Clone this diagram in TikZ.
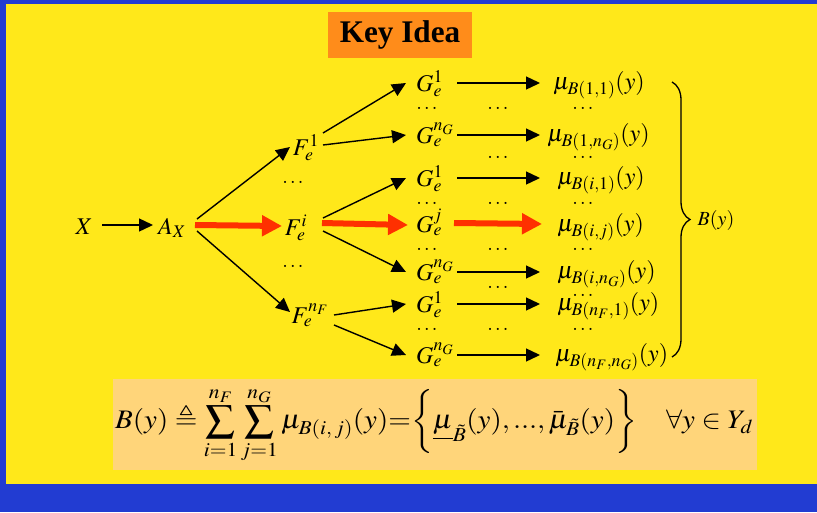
\documentclass[tikz,border=0pt]{standalone}
\usepackage{amsmath,amssymb}
\usepackage{mathptmx}
\usepackage{graphicx}
\usepackage[no-math]{fontspec}
\setmainfont{Liberation Serif}
\usetikzlibrary{arrows.meta,calc,decorations.pathreplacing}
\definecolor{bgyellow}{HTML}{FFE81A}
\definecolor{bgblue}{HTML}{223CD2}
\definecolor{keyorange}{HTML}{FF8C1A}
\definecolor{formbox}{HTML}{FFD57A}
\definecolor{arrred}{HTML}{FF3000}
\tikzset{
  m/.style={inner sep=0pt, font=\fontsize{24}{24}\selectfont},
  mu/.style={inner sep=0pt, anchor=base west, font=\fontsize{24}{24}\selectfont},
  gn/.style={inner sep=0pt, anchor=base west, font=\fontsize{24}{24}\selectfont},
  dts/.style={inner sep=0pt, font=\fontsize{20}{20}\selectfont},
  blk/.style={line width=1.4pt, -{Triangle[length=14pt,width=13pt]}},
  redarr/.style={line width=6pt, arrred, -{Triangle[length=20pt,width=20pt]}},
}
\begin{document}
\begin{tikzpicture}[x=1pt,y=-1pt]
\fill[bgblue] (0,0) rectangle (817,512);
\fill[bgyellow] (6,4) rectangle (817,484);
\useasboundingbox (0,0) rectangle (817,512);

\node[fill=keyorange, minimum width=144pt, minimum height=46pt, inner sep=0pt,
      font=\fontsize{30}{30}\selectfont\bfseries] (key) at (400,35) {\scalebox{1.04}[1.05]{Key Idea}};

% left part
\node[m, anchor=base] (X) at (84,234) {$X$};
\node[m, anchor=base] (AX) at (172,234) {$A_X$};
\node[m, anchor=base] (F1) at (306,155) {$F_e^1$};
\node[m, anchor=base] (Fi) at (296,235) {$F_e^i$};
\node[m, anchor=base] (FnF) at (310,323) {$F_e^{n_F}$};
\node[dts] (fd1) at (293,182) {$\ldots$};
\node[dts] (fd2) at (293,266) {$\ldots$};

% G column
\node[gn] (G1) at (416,91) {$G_e^1$};
\node[gn] (G2) at (416,143) {$G_e^{n_G}$};
\node[gn] (G3) at (416,186) {$G_e^1$};
\node[gn] (G4) at (416,232) {$G_e^j$};
\node[gn] (G5) at (416,280) {$G_e^{n_G}$};
\node[gn] (G6) at (416,312) {$G_e^1$};
\node[gn] (G7) at (416,363) {$G_e^{n_G}$};

% mu column
\node[mu] (M1) at (553,89) {$\mu_{B(1,1)}(y)$};
\node[mu] (M2) at (547,141) {$\mu_{B(1,n_G)}(y)$};
\node[mu] (M3) at (557,184) {$\mu_{B(i,1)}(y)$};
\node[mu] (M4) at (557,231) {$\mu_{B(i,j)}(y)$};
\node[mu] (M5) at (557,278) {$\mu_{B(i,n_G)}(y)$};
\node[mu] (M6) at (557,310) {$\mu_{B(n_F,1)}(y)$};
\node[mu] (M7) at (555,361) {$\mu_{B(n_F,n_G)}(y)$};

% dots
\foreach \nm/\xx/\yy in {a1/427/108, a2/498/108, a3/583/108,
                         b2/498/157, b3/583/157,
                         c1/427/203, c2/498/203, c3/583/203,
                         d1/427/249, d2/498/249, d3/583/249,
                         e2/498/287, e3/583/295,
                         f1/427/329, f2/498/329, f3/583/329}
  \node[dts] (dot\nm) at (\xx,\yy) {$\ldots$};

\coordinate (tipcol) at (540,0);

% arrows left
\draw[blk] ($(X.base)+(18,-9)$) -- ($(AX.base)+(-19,-9)$);
\draw[blk] ($(AX.base)+(25,-15)$) -- ($(F1.base)+(-16,-8)$);
\draw[blk] ($(AX.base)+(25,-3)$) -- ($(FnF.base)+(-20,-11)$);
\draw[redarr] ($(AX.base)+(23,-9)$) -- ($(Fi.base)+(-14,-9)$);

% F -> G
\draw[blk] ($(F1.base)+(17,-22)$) -- ($(G1.base west)+(-10,-8)$);
\draw[blk] ($(F1.base)+(17,-10)$) -- ($(G2.base west)+(-10,-8)$);
\draw[blk] ($(Fi.base)+(27,-17)$) -- ($(G3.base west)+(-10,-8)$);
\draw[blk] ($(Fi.base)+(27,-4)$) -- ($(G5.base west)+(-10,-8)$);
\draw[redarr] ($(Fi.base)+(26,-12)$) -- ($(G4.base west)+(-8,-7)$);
\draw[blk] ($(FnF.base)+(24,-8)$) -- ($(G6.base west)+(-10,-8)$);
\draw[blk] ($(FnF.base)+(24,2)$) -- ($(G7.base west)+(-10,-8)$);

% G -> mu
\foreach \g in {G1,G2,G3,G5,G6,G7}
  \draw[blk] ($(\g.base west)+(41,-8)$) -- ($(\g.base west -| tipcol)+(0,-8)$);
\draw[redarr] ($(G4.base west)+(38,-9)$) -- ($(M4.base west)+(-15,-7)$);

% brace
\draw[line width=1.3pt, decorate, decoration={brace, amplitude=18pt, aspect=0.5}]
  (672,82) -- (672,357);
\node[inner sep=0pt, font=\fontsize{20}{20}\selectfont] (By) at (716,220) {$B(y)$};

% formula
\node[fill=formbox, minimum width=644pt, minimum height=91pt, inner sep=0pt] (fbox) at (435,424.5) {};
\node[inner sep=0pt, font=\fontsize{40}{40}\selectfont] (form) at (434,425)
  {\resizebox*{638pt}{76pt}{$\displaystyle B(y)\triangleq\sum_{i=1}^{n_F}\sum_{j=1}^{n_G}\mu_{B(i,\,j)}(y){=}\biggl\{\underline{\mu}_{\tilde B}(y),...,\bar{\mu}_{\tilde B}(y)\biggr\}\quad\forall y\in Y_d$}};
\end{tikzpicture}
\end{document}
